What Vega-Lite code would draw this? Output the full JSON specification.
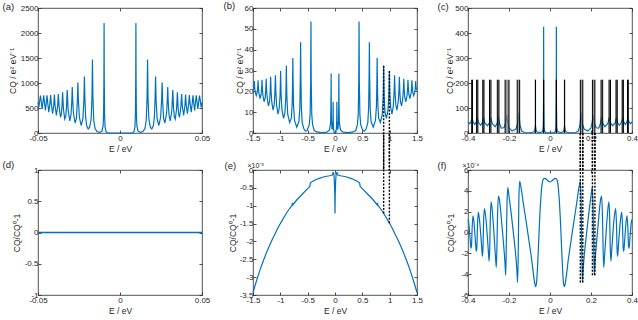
{
"$schema":"https://vega.github.io/schema/vega-lite/v6.json",
"padding":{"left":1,"top":0,"right":0,"bottom":0},
"config":{
 "locale":{"number":{"decimal":".","thousands":",","grouping":[3],"currency":["",""],"minus":"-"}},
 "view":{"stroke":"#262626","strokeWidth":0.8},
 "axis":{"domain":false,"grid":false,"tickSize":-3,"tickColor":"#262626","tickWidth":0.8,"labelColor":"#262626","labelFont":"Liberation Sans","labelFontSize":8,"labelPadding":3,"labelFlush":false,"labelOverlap":false,"format":"~f","titleFont":"Liberation Sans","titleFontSize":8.5,"titleFontWeight":"normal","titleColor":"#262626","titlePadding":3},
 "axisX":{"labelPadding":4,"titlePadding":2},
 "line":{"color":"#0072BD","strokeWidth":1.2}
},
"datasets":{
"a":[{"E":-0.05,"C":610},{"E":-0.0495,"C":510},{"E":-0.0489,"C":660},{"E":-0.0485,"C":750},{"E":-0.0481,"C":650},{"E":-0.0475,"C":480},{"E":-0.0469,"C":640},{"E":-0.0465,"C":755},{"E":-0.0461,"C":630},{"E":-0.0455,"C":450},{"E":-0.0449,"C":620},{"E":-0.0445,"C":755},{"E":-0.0441,"C":610},{"E":-0.0434,"C":415},{"E":-0.0427,"C":600},{"E":-0.0423,"C":760},{"E":-0.0419,"C":590},{"E":-0.0411,"C":385},{"E":-0.0404,"C":560},{"E":-0.04,"C":770},{"E":-0.0396,"C":550},{"E":-0.0388,"C":350},{"E":-0.038,"C":540},{"E":-0.0376,"C":780},{"E":-0.0371,"C":520},{"E":-0.0363,"C":315},{"E":-0.0358,"C":370},{"E":-0.0354,"C":520},{"E":-0.035,"C":815},{"E":-0.0345,"C":480},{"E":-0.0337,"C":280},{"E":-0.0331,"C":330},{"E":-0.0326,"C":520},{"E":-0.0322,"C":860},{"E":-0.0316,"C":450},{"E":-0.0306,"C":240},{"E":-0.0299,"C":360},{"E":-0.0294,"C":620},{"E":-0.0291,"C":920},{"E":-0.0288,"C":640},{"E":-0.0284,"C":400},{"E":-0.0274,"C":200},{"E":-0.0266,"C":290},{"E":-0.026,"C":640},{"E":-0.0257,"C":1010},{"E":-0.0254,"C":680},{"E":-0.0248,"C":320},{"E":-0.0237,"C":150},{"E":-0.0226,"C":290},{"E":-0.022,"C":680},{"E":-0.0217,"C":1130},{"E":-0.0214,"C":700},{"E":-0.021,"C":340},{"E":-0.0203,"C":140},{"E":-0.0194,"C":80},{"E":-0.0185,"C":115},{"E":-0.0176,"C":280},{"E":-0.0171,"C":700},{"E":-0.0168,"C":1470},{"E":-0.0165,"C":700},{"E":-0.016,"C":250},{"E":-0.0152,"C":90},{"E":-0.014,"C":28},{"E":-0.0125,"C":12},{"E":-0.011,"C":40},{"E":-0.0103,"C":140},{"E":-0.01,"C":380},{"E":-0.0098,"C":1100},{"E":-0.0097,"C":2200},{"E":-0.0096,"C":1100},{"E":-0.0094,"C":380},{"E":-0.0091,"C":110},{"E":-0.0085,"C":25},{"E":-0.0075,"C":4},{"E":-0.005,"C":0},{"E":0,"C":0},
{"E":0.005,"C":0},{"E":0.0075,"C":4},{"E":0.0085,"C":25},{"E":0.0091,"C":110},{"E":0.0094,"C":380},{"E":0.0096,"C":1100},{"E":0.0097,"C":2200},{"E":0.0098,"C":1100},{"E":0.01,"C":380},{"E":0.0103,"C":140},{"E":0.011,"C":40},{"E":0.0125,"C":12},{"E":0.014,"C":28},{"E":0.0152,"C":90},{"E":0.016,"C":250},{"E":0.0165,"C":700},{"E":0.0168,"C":1470},{"E":0.0171,"C":700},{"E":0.0176,"C":280},{"E":0.0185,"C":115},{"E":0.0194,"C":80},{"E":0.0203,"C":140},{"E":0.021,"C":340},{"E":0.0214,"C":700},{"E":0.0217,"C":1130},{"E":0.022,"C":680},{"E":0.0226,"C":290},{"E":0.0237,"C":150},{"E":0.0248,"C":320},{"E":0.0254,"C":680},{"E":0.0257,"C":1010},{"E":0.026,"C":640},{"E":0.0266,"C":290},{"E":0.0274,"C":200},{"E":0.0284,"C":400},{"E":0.0288,"C":640},{"E":0.0291,"C":920},{"E":0.0294,"C":620},{"E":0.0299,"C":360},{"E":0.0306,"C":240},{"E":0.0316,"C":450},{"E":0.0322,"C":860},{"E":0.0326,"C":520},{"E":0.0331,"C":330},{"E":0.0337,"C":280},{"E":0.0345,"C":480},{"E":0.035,"C":815},{"E":0.0354,"C":520},{"E":0.0358,"C":370},{"E":0.0363,"C":315},{"E":0.0371,"C":520},{"E":0.0376,"C":780},{"E":0.038,"C":540},{"E":0.0388,"C":350},{"E":0.0396,"C":550},{"E":0.04,"C":770},{"E":0.0404,"C":560},{"E":0.0411,"C":385},{"E":0.0419,"C":590},{"E":0.0423,"C":760},{"E":0.0427,"C":600},{"E":0.0434,"C":415},{"E":0.0441,"C":610},{"E":0.0445,"C":755},{"E":0.0449,"C":620},{"E":0.0455,"C":450},{"E":0.0461,"C":630},{"E":0.0465,"C":755},{"E":0.0469,"C":640},{"E":0.0475,"C":480},{"E":0.0481,"C":650},{"E":0.0485,"C":750},{"E":0.0489,"C":660},{"E":0.0495,"C":510},{"E":0.05,"C":610}],
"b":[{"E":-1.5,"C":20.5},{"E":-1.49,"C":21},{"E":-1.481,"C":22.5},{"E":-1.476,"C":25},{"E":-1.471,"C":22.5},{"E":-1.462,"C":20},{"E":-1.44,"C":18},{"E":-1.423,"C":19.5},{"E":-1.413,"C":22},{"E":-1.407,"C":25.3},{"E":-1.401,"C":22},{"E":-1.392,"C":19},{"E":-1.37,"C":16.5},{"E":-1.352,"C":18.5},{"E":-1.341,"C":22},{"E":-1.335,"C":25.5},{"E":-1.329,"C":21.5},{"E":-1.318,"C":18},{"E":-1.297,"C":15},{"E":-1.277,"C":17},{"E":-1.266,"C":21},{"E":-1.259,"C":26},{"E":-1.252,"C":21},{"E":-1.241,"C":17},{"E":-1.218,"C":13},{"E":-1.197,"C":15},{"E":-1.185,"C":20},{"E":-1.177,"C":27},{"E":-1.169,"C":20},{"E":-1.157,"C":15},{"E":-1.133,"C":11},{"E":-1.113,"C":13.5},{"E":-1.1,"C":19},{"E":-1.09,"C":27.7},{"E":-1.08,"C":19},{"E":-1.067,"C":13},{"E":-1.042,"C":9},{"E":-1.02,"C":12},{"E":-1.005,"C":18},{"E":-0.999,"C":24},{"E":-0.995,"C":29.8},{"E":-0.991,"C":24},{"E":-0.985,"C":18},{"E":-0.97,"C":11},{"E":-0.94,"C":7},{"E":-0.915,"C":10},{"E":-0.9,"C":17},{"E":-0.894,"C":25},{"E":-0.89,"C":32.3},{"E":-0.886,"C":25},{"E":-0.88,"C":17},{"E":-0.865,"C":9},{"E":-0.83,"C":5},{"E":-0.8,"C":7},{"E":-0.784,"C":13},{"E":-0.776,"C":24},{"E":-0.771,"C":36},{"E":-0.766,"C":24},{"E":-0.758,"C":13},{"E":-0.74,"C":6},{"E":-0.7,"C":2.8},{"E":-0.66,"C":5.5},{"E":-0.643,"C":12},{"E":-0.634,"C":28},{"E":-0.629,"C":43.6},{"E":-0.624,"C":28},{"E":-0.615,"C":12},{"E":-0.6,"C":5},{"E":-0.57,"C":2},{"E":-0.54,"C":0.9},{"E":-0.51,"C":1.2},{"E":-0.47,"C":4},{"E":-0.455,"C":9},{"E":-0.445,"C":25},{"E":-0.44,"C":53.5},{"E":-0.435,"C":25},{"E":-0.425,"C":9},{"E":-0.41,"C":4},{"E":-0.38,"C":1.2},{"E":-0.33,"C":0.5},{"E":-0.25,"C":0.2},{"E":-0.15,"C":0.4},{"E":-0.1,"C":1.5},{"E":-0.08,"C":5},{"E":-0.074,"C":14},{"E":-0.071,"C":28.5},{"E":-0.068,"C":14},{"E":-0.064,"C":6},{"E":-0.055,"C":2},{"E":-0.045,"C":2},{"E":-0.037,"C":6},{"E":-0.034,"C":15},{"E":-0.031,"C":6},{"E":-0.026,"C":2},{"E":-0.015,"C":0.3},{"E":0,"C":0},
{"E":0.015,"C":0.3},{"E":0.026,"C":2},{"E":0.031,"C":6},{"E":0.034,"C":15},{"E":0.037,"C":6},{"E":0.045,"C":2},{"E":0.055,"C":2},{"E":0.064,"C":6},{"E":0.068,"C":14},{"E":0.071,"C":28.5},{"E":0.074,"C":14},{"E":0.08,"C":5},{"E":0.1,"C":1.5},{"E":0.15,"C":0.4},{"E":0.25,"C":0.2},{"E":0.33,"C":0.5},{"E":0.38,"C":1.2},{"E":0.41,"C":4},{"E":0.425,"C":9},{"E":0.435,"C":25},{"E":0.44,"C":53.5},{"E":0.445,"C":25},{"E":0.455,"C":9},{"E":0.47,"C":4},{"E":0.51,"C":1.2},{"E":0.54,"C":0.9},{"E":0.57,"C":2},{"E":0.6,"C":5},{"E":0.615,"C":12},{"E":0.624,"C":28},{"E":0.629,"C":43.6},{"E":0.634,"C":28},{"E":0.643,"C":12},{"E":0.66,"C":5.5},{"E":0.7,"C":2.8},{"E":0.74,"C":6},{"E":0.758,"C":13},{"E":0.766,"C":24},{"E":0.771,"C":36},{"E":0.776,"C":24},{"E":0.784,"C":13},{"E":0.8,"C":7},{"E":0.83,"C":5},{"E":0.865,"C":9},{"E":0.88,"C":17},{"E":0.886,"C":25},{"E":0.89,"C":32.3},{"E":0.894,"C":25},{"E":0.9,"C":17},{"E":0.915,"C":10},{"E":0.94,"C":7},{"E":0.97,"C":11},{"E":0.985,"C":18},{"E":0.991,"C":24},{"E":0.995,"C":29.8},{"E":0.999,"C":24},{"E":1.005,"C":18},{"E":1.02,"C":12},{"E":1.042,"C":9},{"E":1.067,"C":13},{"E":1.08,"C":19},{"E":1.09,"C":27.7},{"E":1.1,"C":19},{"E":1.113,"C":13.5},{"E":1.133,"C":11},{"E":1.157,"C":15},{"E":1.169,"C":20},{"E":1.177,"C":27},{"E":1.185,"C":20},{"E":1.197,"C":15},{"E":1.218,"C":13},{"E":1.241,"C":17},{"E":1.252,"C":21},{"E":1.259,"C":26},{"E":1.266,"C":21},{"E":1.277,"C":17},{"E":1.297,"C":15},{"E":1.318,"C":18},{"E":1.329,"C":21.5},{"E":1.335,"C":25.5},{"E":1.341,"C":22},{"E":1.352,"C":18.5},{"E":1.37,"C":16.5},{"E":1.392,"C":19},{"E":1.401,"C":22},{"E":1.407,"C":25.3},{"E":1.413,"C":22},{"E":1.423,"C":19.5},{"E":1.44,"C":18},{"E":1.462,"C":20},{"E":1.471,"C":22.5},{"E":1.476,"C":25},{"E":1.481,"C":22.5},{"E":1.49,"C":21},{"E":1.5,"C":20.5}],
"bd":[{"E":0.89,"C":32.3},{"E":0.995,"C":29.8}],
"c":[{"E":-0.4,"C":44},{"E":-0.392,"C":37},{"E":-0.385,"C":46},{"E":-0.38,"C":59},{"E":-0.375,"C":44},{"E":-0.367,"C":34},{"E":-0.36,"C":45},{"E":-0.355,"C":60},{"E":-0.349,"C":43},{"E":-0.338,"C":31},{"E":-0.329,"C":43},{"E":-0.324,"C":61},{"E":-0.318,"C":40},{"E":-0.305,"C":29},{"E":-0.295,"C":42},{"E":-0.29,"C":63},{"E":-0.282,"C":38},{"E":-0.268,"C":25},{"E":-0.257,"C":40},{"E":-0.252,"C":66},{"E":-0.246,"C":38},{"E":-0.238,"C":20},{"E":-0.225,"C":21},{"E":-0.216,"C":40},{"E":-0.211,"C":72},{"E":-0.206,"C":45},{"E":-0.2,"C":20},{"E":-0.185,"C":8},{"E":-0.166,"C":16},{"E":-0.157,"C":40},{"E":-0.152,"C":82},{"E":-0.146,"C":30},{"E":-0.138,"C":8},{"E":-0.125,"C":2},{"E":-0.1,"C":1},{"E":-0.079,"C":4},{"E":-0.074,"C":12},{"E":-0.071,"C":30},{"E":-0.068,"C":12},{"E":-0.063,"C":4},{"E":-0.05,"C":1.5},{"E":-0.036,"C":6},{"E":-0.033,"C":25},{"E":-0.0315,"C":120},{"E":-0.031,"C":425},{"E":-0.0305,"C":120},{"E":-0.029,"C":25},{"E":-0.026,"C":6},{"E":-0.02,"C":1},{"E":0,"C":0.5},
{"E":0.02,"C":1},{"E":0.026,"C":6},{"E":0.029,"C":25},{"E":0.0305,"C":120},{"E":0.031,"C":425},{"E":0.0315,"C":120},{"E":0.033,"C":25},{"E":0.036,"C":6},{"E":0.05,"C":1.5},{"E":0.063,"C":4},{"E":0.068,"C":12},{"E":0.071,"C":30},{"E":0.074,"C":12},{"E":0.079,"C":4},{"E":0.1,"C":1},{"E":0.125,"C":2},{"E":0.138,"C":8},{"E":0.146,"C":30},{"E":0.152,"C":82},{"E":0.157,"C":40},{"E":0.166,"C":16},{"E":0.185,"C":8},{"E":0.2,"C":20},{"E":0.206,"C":45},{"E":0.211,"C":72},{"E":0.216,"C":40},{"E":0.225,"C":21},{"E":0.238,"C":20},{"E":0.246,"C":38},{"E":0.252,"C":66},{"E":0.257,"C":40},{"E":0.268,"C":25},{"E":0.282,"C":38},{"E":0.29,"C":63},{"E":0.295,"C":42},{"E":0.305,"C":29},{"E":0.318,"C":40},{"E":0.324,"C":61},{"E":0.329,"C":43},{"E":0.338,"C":31},{"E":0.349,"C":43},{"E":0.355,"C":60},{"E":0.36,"C":45},{"E":0.367,"C":34},{"E":0.375,"C":44},{"E":0.38,"C":59},{"E":0.385,"C":46},{"E":0.392,"C":37},{"E":0.4,"C":44}],
"cr":[{"E":-0.382,"E2":-0.378},{"E":-0.358,"E2":-0.352},{"E":-0.328,"E2":-0.322},{"E":-0.295,"E2":-0.288},{"E":-0.257,"E2":-0.249},{"E":-0.219,"E2":-0.2},{"E":-0.16,"E2":-0.148},{"E":0.148,"E2":0.16},{"E":0.207,"E2":0.219},{"E":0.249,"E2":0.257},{"E":0.288,"E2":0.295},{"E":0.322,"E2":0.328},{"E":0.352,"E2":0.358},{"E":0.378,"E2":0.382}],
"cl":[{"E":-0.382},{"E":-0.378},{"E":-0.358},{"E":-0.352},{"E":-0.328},{"E":-0.322},{"E":-0.295},{"E":-0.288},{"E":-0.257},{"E":-0.249},{"E":-0.219},{"E":-0.2},{"E":-0.16},{"E":-0.148},{"E":-0.0715},{"E":-0.0705},{"E":-0.0315},{"E":-0.0305},{"E":0.0305},{"E":0.0315},{"E":0.0705},{"E":0.0715},{"E":0.148},{"E":0.16},{"E":0.207},{"E":0.219},{"E":0.249},{"E":0.257},{"E":0.288},{"E":0.295},{"E":0.322},{"E":0.328},{"E":0.352},{"E":0.358},{"E":0.378},{"E":0.382}],
"cd":[{"E":0.148},{"E":0.16},{"E":0.207},{"E":0.219}],
"d":[{"E":-0.05,"C":0},{"E":0.05,"C":0}],
"e":[{"E":-1.5,"C":-3.43},{"E":-1.45,"C":-3.17},{"E":-1.4,"C":-2.93},{"E":-1.35,"C":-2.7},{"E":-1.3,"C":-2.5},{"E":-1.25,"C":-2.3},{"E":-1.2,"C":-2.12},{"E":-1.15,"C":-1.95},{"E":-1.1,"C":-1.8},{"E":-1.05,"C":-1.64},{"E":-1.0,"C":-1.5},{"E":-0.95,"C":-1.37},{"E":-0.9,"C":-1.24},{"E":-0.85,"C":-1.12},{"E":-0.8,"C":-1.02},{"E":-0.785,"C":-0.99},{"E":-0.78,"C":-0.92},{"E":-0.775,"C":-0.98},{"E":-0.7,"C":-0.84},{"E":-0.6,"C":-0.68},{"E":-0.5,"C":-0.52},{"E":-0.46,"C":-0.46},{"E":-0.45,"C":-0.36},{"E":-0.4,"C":-0.31},{"E":-0.3,"C":-0.24},{"E":-0.2,"C":-0.19},{"E":-0.1,"C":-0.16},{"E":-0.05,"C":-0.14},{"E":-0.035,"C":-0.07},{"E":-0.022,"C":-0.1},{"E":-0.012,"C":-0.3},{"E":-0.004,"C":-0.7},{"E":0,"C":-1.22},{"E":0.004,"C":-0.7},{"E":0.012,"C":-0.3},{"E":0.022,"C":-0.1},{"E":0.035,"C":-0.07},{"E":0.05,"C":-0.14},{"E":0.1,"C":-0.16},{"E":0.2,"C":-0.19},{"E":0.3,"C":-0.24},{"E":0.4,"C":-0.31},{"E":0.45,"C":-0.36},{"E":0.46,"C":-0.46},{"E":0.5,"C":-0.52},{"E":0.6,"C":-0.68},{"E":0.7,"C":-0.84},{"E":0.775,"C":-0.98},{"E":0.78,"C":-0.92},{"E":0.785,"C":-0.99},{"E":0.8,"C":-1.02},{"E":0.85,"C":-1.12},{"E":0.9,"C":-1.24},{"E":0.95,"C":-1.37},{"E":1.0,"C":-1.5},{"E":1.05,"C":-1.64},{"E":1.1,"C":-1.8},{"E":1.15,"C":-1.95},{"E":1.2,"C":-2.12},{"E":1.25,"C":-2.3},{"E":1.3,"C":-2.5},{"E":1.35,"C":-2.7},{"E":1.4,"C":-2.93},{"E":1.45,"C":-3.17},{"E":1.5,"C":-3.43}],
"ed":[{"E":0.89,"C":-1.22},{"E":0.995,"C":-1.49}],
"f":[{"E":-0.4,"C":1.25},{"E":-0.397,"C":1.0},{"E":-0.39,"C":-0.5},{"E":-0.386,"C":-1.5},{"E":-0.383,"C":-1.3},{"E":-0.38,"C":0.3},{"E":-0.376,"C":1.6},{"E":-0.372,"C":1.2},{"E":-0.364,"C":-0.8},{"E":-0.36,"C":-1.8},{"E":-0.357,"C":-1.5},{"E":-0.354,"C":0.5},{"E":-0.35,"C":1.95},{"E":-0.345,"C":1.4},{"E":-0.334,"C":-1.2},{"E":-0.33,"C":-2.3},{"E":-0.327,"C":-1.5},{"E":-0.324,"C":1.0},{"E":-0.32,"C":2.3},{"E":-0.312,"C":1.2},{"E":-0.301,"C":-1.7},{"E":-0.297,"C":-2.75},{"E":-0.294,"C":-1.5},{"E":-0.291,"C":1.5},{"E":-0.287,"C":2.95},{"E":-0.278,"C":1.2},{"E":-0.266,"C":-2.3},{"E":-0.262,"C":-3.35},{"E":-0.259,"C":-1.5},{"E":-0.256,"C":1.5},{"E":-0.252,"C":3.5},{"E":-0.248,"C":3.3},{"E":-0.235,"C":0.8},{"E":-0.22,"C":-2.8},{"E":-0.216,"C":-4.1},{"E":-0.213,"C":-1},{"E":-0.21,"C":2.5},{"E":-0.206,"C":4.3},{"E":-0.2,"C":3.5},{"E":-0.18,"C":0.2},{"E":-0.162,"C":-3.5},{"E":-0.158,"C":-4.8},{"E":-0.155,"C":-2.0},{"E":-0.152,"C":3.0},{"E":-0.148,"C":4.9},{"E":-0.143,"C":4.5},{"E":-0.13,"C":2.8},{"E":-0.11,"C":0.2},{"E":-0.09,"C":-2.5},{"E":-0.074,"C":-4.9},{"E":-0.07,"C":-5.2},{"E":-0.066,"C":-4.9},{"E":-0.06,"C":-3.0},{"E":-0.05,"C":1.5},{"E":-0.04,"C":4.4},{"E":-0.033,"C":5.1},{"E":-0.025,"C":5.2},{"E":-0.012,"C":5.0},{"E":0,"C":4.85},
{"E":0.012,"C":5.0},{"E":0.025,"C":5.2},{"E":0.033,"C":5.1},{"E":0.04,"C":4.4},{"E":0.05,"C":1.5},{"E":0.06,"C":-3.0},{"E":0.066,"C":-4.9},{"E":0.07,"C":-5.2},{"E":0.074,"C":-4.9},{"E":0.09,"C":-2.5},{"E":0.11,"C":0.2},{"E":0.13,"C":2.8},{"E":0.143,"C":4.5},{"E":0.148,"C":4.9},{"E":0.152,"C":3.0},{"E":0.155,"C":-2.0},{"E":0.158,"C":-4.8},{"E":0.162,"C":-3.5},{"E":0.18,"C":0.2},{"E":0.2,"C":3.5},{"E":0.206,"C":4.3},{"E":0.21,"C":2.5},{"E":0.213,"C":-1},{"E":0.216,"C":-4.1},{"E":0.22,"C":-2.8},{"E":0.235,"C":0.8},{"E":0.248,"C":3.3},{"E":0.252,"C":3.5},{"E":0.256,"C":1.5},{"E":0.259,"C":-1.5},{"E":0.262,"C":-3.35},{"E":0.266,"C":-2.3},{"E":0.278,"C":1.2},{"E":0.287,"C":2.95},{"E":0.291,"C":1.5},{"E":0.294,"C":-1.5},{"E":0.297,"C":-2.75},{"E":0.301,"C":-1.7},{"E":0.312,"C":1.2},{"E":0.32,"C":2.3},{"E":0.324,"C":1.0},{"E":0.327,"C":-1.5},{"E":0.33,"C":-2.3},{"E":0.334,"C":-1.2},{"E":0.345,"C":1.4},{"E":0.35,"C":1.95},{"E":0.354,"C":0.5},{"E":0.357,"C":-1.5},{"E":0.36,"C":-1.8},{"E":0.364,"C":-0.8},{"E":0.372,"C":1.2},{"E":0.376,"C":1.6},{"E":0.38,"C":0.3},{"E":0.383,"C":-1.3},{"E":0.386,"C":-1.5},{"E":0.39,"C":-0.5},{"E":0.397,"C":1.0},{"E":0.4,"C":1.25}],
"fd":[{"E":0.148,"C":-4.8},{"E":0.16,"C":-4.8},{"E":0.207,"C":-4.1},{"E":0.219,"C":-4.1}]
},
"columns":3,
"spacing":{"row":37,"column":51},
"bounds":"flush",
"concat":[
{"width":164,"height":125,
 "resolve":{"axis":{"x":"independent","y":"independent"}},
 "layer":[
  {"data":{"name":"a"},"mark":{"type":"line","color":"#0072BD"},"encoding":{
   "x":{"field":"E","type":"quantitative","scale":{"domain":[-0.05,0.05],"nice":false,"zero":false},"axis":{"values":[-0.05,0,0.05],"title":"E / eV"}},
   "y":{"field":"C","type":"quantitative","scale":{"domain":[0,2500],"nice":false},"axis":{"values":[0,500,1000,1500,2000,2500],"title":"CQ / e² eV⁻¹","titlePadding":3}}}},
  {"data":{"name":"a"},"mark":{"type":"line","strokeOpacity":0},"encoding":{
   "x":{"field":"E","type":"quantitative","scale":{"domain":[-0.05,0.05],"nice":false,"zero":false},"axis":{"orient":"top","values":[-0.05,0,0.05],"labels":false,"title":"(a)","titleX":-36,"titleY":1.5,"titleAlign":"left","titleBaseline":"alphabetic","titleAngle":0,"titleFontSize":9.5}},
   "y":{"field":"C","type":"quantitative","scale":{"domain":[0,2500],"nice":false},"axis":{"orient":"right","values":[0,500,1000,1500,2000,2500],"labels":false,"title":null}}}}
 ]},
{"width":164,"height":125,
 "resolve":{"axis":{"x":"independent","y":"independent"}},
 "layer":[
  {"data":{"name":"b"},"mark":{"type":"line","color":"#0072BD"},"encoding":{
   "x":{"field":"E","type":"quantitative","scale":{"domain":[-1.5,1.5],"nice":false,"zero":false},"axis":{"values":[-1.5,-1,-0.5,0,0.5,1,1.5],"title":"E / eV"}},
   "y":{"field":"C","type":"quantitative","scale":{"domain":[0,60],"nice":false},"axis":{"values":[0,10,20,30,40,50,60],"title":"CQ / e² eV⁻¹","titlePadding":0}}}},
  {"data":{"name":"bd"},"mark":{"type":"rule","color":"black","strokeWidth":1.4,"strokeDash":[2,1.5]},"encoding":{
   "x":{"field":"E","type":"quantitative","scale":{"domain":[-1.5,1.5],"nice":false,"zero":false},"axis":null},
   "y":{"field":"C","type":"quantitative","scale":{"domain":[0,60],"nice":false},"axis":null},
   "y2":{"datum":-17.8}}},
  {"data":{"name":"b"},"mark":{"type":"line","strokeOpacity":0},"encoding":{
   "x":{"field":"E","type":"quantitative","scale":{"domain":[-1.5,1.5],"nice":false,"zero":false},"axis":{"orient":"top","values":[-1.5,-1,-0.5,0,0.5,1,1.5],"labels":false,"title":"(b)","titleX":-30,"titleY":0.5,"titleAlign":"left","titleBaseline":"alphabetic","titleAngle":0,"titleFontSize":9.5}},
   "y":{"field":"C","type":"quantitative","scale":{"domain":[0,60],"nice":false},"axis":{"orient":"right","values":[0,10,20,30,40,50,60],"labels":false,"title":null}}}}
 ]},
{"width":164,"height":125,
 "resolve":{"axis":{"x":"independent","y":"independent"}},
 "layer":[
  {"data":{"name":"c"},"mark":{"type":"line","color":"#0072BD"},"encoding":{
   "x":{"field":"E","type":"quantitative","scale":{"domain":[-0.4,0.4],"nice":false,"zero":false},"axis":{"values":[-0.4,-0.2,0,0.2,0.4],"title":"E / eV"}},
   "y":{"field":"C","type":"quantitative","scale":{"domain":[0,500],"nice":false},"axis":{"values":[0,100,200,300,400,500],"title":"CQ / e² eV⁻¹","titlePadding":0}}}},
  {"data":{"name":"cr"},"mark":{"type":"rect","color":"#7a7a7a","opacity":0.75},"encoding":{
   "x":{"field":"E","type":"quantitative","scale":{"domain":[-0.4,0.4],"nice":false,"zero":false},"axis":null},
   "x2":{"field":"E2"},
   "y":{"datum":0,"scale":{"domain":[0,500],"nice":false},"axis":null},
   "y2":{"datum":213}}},
  {"data":{"name":"cl"},"mark":{"type":"rule","color":"black","strokeWidth":1},"encoding":{
   "x":{"field":"E","type":"quantitative","scale":{"domain":[-0.4,0.4],"nice":false,"zero":false},"axis":null},
   "y":{"datum":0,"scale":{"domain":[0,500],"nice":false},"axis":null},
   "y2":{"datum":213}}},
  {"data":{"name":"cd"},"mark":{"type":"rule","color":"black","strokeWidth":1.4,"strokeDash":[2,1.5]},"encoding":{
   "x":{"field":"E","type":"quantitative","scale":{"domain":[-0.4,0.4],"nice":false,"zero":false},"axis":null},
   "y":{"datum":0,"scale":{"domain":[0,500],"nice":false},"axis":null},
   "y2":{"datum":-148}}},
  {"data":{"name":"c"},"mark":{"type":"line","strokeOpacity":0},"encoding":{
   "x":{"field":"E","type":"quantitative","scale":{"domain":[-0.4,0.4],"nice":false,"zero":false},"axis":{"orient":"top","values":[-0.4,-0.2,0,0.2,0.4],"labels":false,"title":"(c)","titleX":-31,"titleY":1.5,"titleAlign":"left","titleBaseline":"alphabetic","titleAngle":0,"titleFontSize":9.5}},
   "y":{"field":"C","type":"quantitative","scale":{"domain":[0,500],"nice":false},"axis":{"orient":"right","values":[0,100,200,300,400,500],"labels":false,"title":null}}}}
 ]},
{"width":164,"height":125,
 "resolve":{"axis":{"x":"independent","y":"independent"}},
 "layer":[
  {"data":{"name":"d"},"mark":{"type":"line","color":"#0072BD","strokeWidth":1.5},"encoding":{
   "x":{"field":"E","type":"quantitative","scale":{"domain":[-0.05,0.05],"nice":false,"zero":false},"axis":{"values":[-0.05,0,0.05],"title":"E / eV"}},
   "y":{"field":"C","type":"quantitative","scale":{"domain":[-1,1],"nice":false},"axis":{"values":[-1,-0.5,0,0.5,1],"title":"CQ/CQ⁰-1","titlePadding":3}}}},
  {"data":{"name":"d"},"mark":{"type":"line","strokeOpacity":0},"encoding":{
   "x":{"field":"E","type":"quantitative","scale":{"domain":[-0.05,0.05],"nice":false,"zero":false},"axis":{"orient":"top","values":[-0.05,0,0.05],"labels":false,"title":"(d)","titleX":-36,"titleY":-3,"titleAlign":"left","titleBaseline":"alphabetic","titleAngle":0,"titleFontSize":9.5}},
   "y":{"field":"C","type":"quantitative","scale":{"domain":[-1,1],"nice":false},"axis":{"orient":"right","values":[-1,-0.5,0,0.5,1],"labels":false,"title":null}}}}
 ]},
{"width":164,"height":125,
 "resolve":{"axis":{"x":"independent","y":"independent"}},
 "layer":[
  {"data":{"name":"e"},"mark":{"type":"line","color":"#0072BD"},"encoding":{
   "x":{"field":"E","type":"quantitative","scale":{"domain":[-1.5,1.5],"nice":false,"zero":false},"axis":{"values":[-1.5,-1,-0.5,0,0.5,1,1.5],"title":"E / eV"}},
   "y":{"field":"C","type":"quantitative","scale":{"domain":[-3.5,0],"nice":false,"zero":false},"axis":{"values":[-3.5,-3,-2.5,-2,-1.5,-1,-0.5,0],"title":"CQ/CQ⁰-1","titlePadding":2}}}},
  {"data":{"name":"ed"},"mark":{"type":"rule","color":"black","strokeWidth":1.4,"strokeDash":[2,1.5]},"encoding":{
   "x":{"field":"E","type":"quantitative","scale":{"domain":[-1.5,1.5],"nice":false,"zero":false},"axis":null},
   "y":{"field":"C","type":"quantitative","scale":{"domain":[-3.5,0],"nice":false,"zero":false},"axis":null},
   "y2":{"datum":1.04}}},
  {"data":{"name":"e"},"mark":{"type":"line","strokeOpacity":0},"encoding":{
   "x":{"field":"E","type":"quantitative","scale":{"domain":[-1.5,1.5],"nice":false,"zero":false},"axis":{"orient":"top","values":[-1.5,-1,-0.5,0,0.5,1,1.5],"labels":false,"title":"×10⁻⁵","titleX":-6,"titleY":-3,"titleAlign":"left","titleBaseline":"alphabetic","titleAngle":0,"titleFontSize":7}},
   "y":{"field":"C","type":"quantitative","scale":{"domain":[-3.5,0],"nice":false,"zero":false},"axis":{"orient":"right","values":[-3.5,-3,-2.5,-2,-1.5,-1,-0.5,0],"labels":false,"title":"(e)","titleX":-193,"titleY":-2,"titleAlign":"left","titleBaseline":"alphabetic","titleAngle":0,"titleFontSize":9.5}}}}
 ]},
{"width":164,"height":125,
 "resolve":{"axis":{"x":"independent","y":"independent"}},
 "layer":[
  {"data":{"name":"f"},"mark":{"type":"line","interpolate":"monotone","color":"#0072BD"},"encoding":{
   "x":{"field":"E","type":"quantitative","scale":{"domain":[-0.4,0.4],"nice":false,"zero":false},"axis":{"values":[-0.4,-0.2,0,0.2,0.4],"title":"E / eV"}},
   "y":{"field":"C","type":"quantitative","scale":{"domain":[-6,6],"nice":false,"zero":false},"axis":{"values":[-6,-4,-2,0,2,4,6],"title":"CQ/CQ⁰-1","titlePadding":5}}}},
  {"data":{"name":"fd"},"mark":{"type":"rule","color":"black","strokeWidth":1.4,"strokeDash":[2,1.5]},"encoding":{
   "x":{"field":"E","type":"quantitative","scale":{"domain":[-0.4,0.4],"nice":false,"zero":false},"axis":null},
   "y":{"field":"C","type":"quantitative","scale":{"domain":[-6,6],"nice":false,"zero":false},"axis":null},
   "y2":{"datum":9.55}}},
  {"data":{"name":"f"},"mark":{"type":"line","strokeOpacity":0},"encoding":{
   "x":{"field":"E","type":"quantitative","scale":{"domain":[-0.4,0.4],"nice":false,"zero":false},"axis":{"orient":"top","values":[-0.4,-0.2,0,0.2,0.4],"labels":false,"title":"×10⁻⁴","titleX":-6,"titleY":-3,"titleAlign":"left","titleBaseline":"alphabetic","titleAngle":0,"titleFontSize":7}},
   "y":{"field":"C","type":"quantitative","scale":{"domain":[-6,6],"nice":false,"zero":false},"axis":{"orient":"right","values":[-6,-4,-2,0,2,4,6],"labels":false,"title":"(f)","titleX":-195,"titleY":-2,"titleAlign":"left","titleBaseline":"alphabetic","titleAngle":0,"titleFontSize":9.5}}}}
 ]}
]
}
